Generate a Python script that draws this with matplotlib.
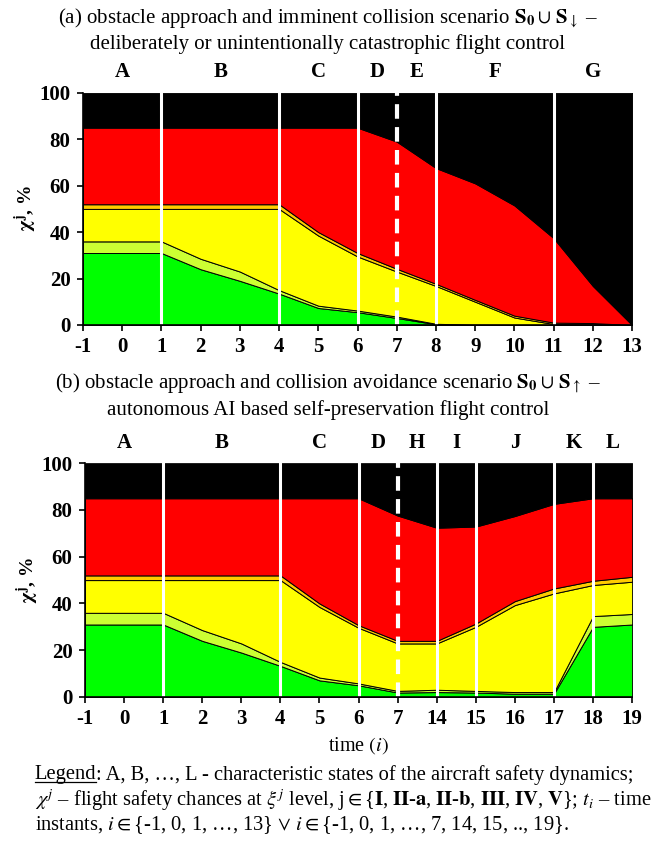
import numpy as np
import matplotlib
matplotlib.use("Agg")
import matplotlib.pyplot as plt
from matplotlib.lines import Line2D

plt.rcParams['font.family'] = ['Liberation Serif', 'DejaVu Serif']
plt.rcParams['mathtext.fontset'] = 'stix'
plt.rcParams['axes.unicode_minus'] = False

# (a) catastrophic scenario, time instants -1..13
t_a = [-1, 0, 1, 2, 3, 4, 5, 6, 7, 8, 9, 10, 11, 12, 13]
a_I   = [31, 31, 31, 24, 19, 13.5, 7.3, 5.5, 3, 0.3, 0, 0, 0, 0, 0]
a_IIa = [5, 5, 5, 4.5, 4, 1.5, 1, 0.7, 0.6, 0.2, 0.1, 0, 0, 0, 0]
a_IIb = [14, 14, 14, 21.5, 27, 35, 30.2, 23.3, 19.4, 16.3, 9.9, 3.2, 0.4, 0.3, 0]
a_III = [2, 2, 2, 2, 2, 2, 1.5, 1.5, 1.2, 0.9, 0.8, 0.8, 0.6, 0.5, 0]
a_IV  = [33, 33, 33, 33, 33, 33, 45, 54, 54.8, 49.9, 50.2, 47.5, 36.4, 16, 0]
a_V   = [15, 15, 15, 15, 15, 15, 15, 15, 21, 32.4, 39, 48.5, 62.6, 83.2, 100]
a_states = ['A', 'B', 'C', 'D', 'E', 'F', 'G']
a_state_pos = [0, 2.5, 5, 6.5, 7.5, 9.5, 12]
a_bounds = [1, 4, 6, 8, 11]
a_dashed = 7

# (b) avoidance scenario, time instants -1..7, 14..19
t_b = ['-1', '0', '1', '2', '3', '4', '5', '6', '7', '14', '15', '16', '17', '18', '19']
b_I   = [31, 31, 31, 24, 19, 13.3, 7.1, 5, 1.9, 2.1, 1.9, 1.4, 1.4, 30, 31]
b_IIa = [5, 5, 5, 4.6, 3.9, 1.7, 1.2, 0.8, 0.7, 1, 0.7, 0.7, 0.7, 4.6, 4.5]
b_IIb = [14, 14, 14, 21.4, 27.1, 35, 30.2, 23.8, 20.3, 19.8, 27.4, 37.2, 42.2, 13.3, 13.8]
b_III = [2, 2, 2, 2, 2, 2, 1.5, 1.1, 1.1, 1.1, 1.4, 1.7, 2.1, 1.8, 2.1]
b_IV  = [33, 33, 33, 33, 33, 33, 45, 54.3, 53.6, 48.4, 41.5, 36.4, 36.2, 35.3, 33.6]
b_V   = [15, 15, 15, 15, 15, 15, 15, 15, 22.4, 27.6, 27.1, 22.6, 17.4, 15, 15]
b_states = ['A', 'B', 'C', 'D', 'H', 'I', 'J', 'K', 'L']
b_state_pos = [1, 3.5, 6, 7.5, 8.5, 9.5, 11, 12.5, 13.5]   # category index units
b_bounds = [2, 5, 7, 9, 10, 12, 13]
b_dashed = 8

colors = ['#00ff00', '#ccff33', '#ffff00', '#ffcc00', '#ff0000', '#000000']

fig = plt.figure(figsize=(6.56, 8.44), dpi=100)
ax1 = fig.add_axes([0.1265, 0.615, 0.837, 0.275])
ax2 = fig.add_axes([0.1296, 0.1742, 0.834, 0.277])


def style(ax, x0, x1):
    ax.set_xlim(x0, x1)
    ax.set_ylim(0, 100)
    ax.set_yticks([0, 20, 40, 60, 80, 100])
    for s in ['top', 'right']:
        ax.spines[s].set_visible(False)
    ax.spines['left'].set_linewidth(1.2)
    ax.spines['bottom'].set_linewidth(1.2)
    ax.tick_params(direction='out', length=4, width=1.2, labelsize=15, pad=5)
    for lab in ax.get_xticklabels() + ax.get_yticklabels():
        lab.set_fontweight('bold')
    ax.set_ylabel(r'$\mathbf{\chi}^\mathbf{j}$, %', fontsize=14, fontweight='bold', labelpad=0)


# top chart
ax1.stackplot(t_a, a_I, a_IIa, a_IIb, a_III, a_IV, a_V, colors=colors,
              edgecolor='black', linewidth=0.7)
for b in a_bounds:
    ax1.axvline(b, color='white', lw=2.2)
ax1.axvline(a_dashed, color='white', lw=3, dashes=(3.5, 2))
ax1.set_xticks(t_a)
style(ax1, -1, 13)
for s, p in zip(a_states, a_state_pos):
    ax1.text(p, 104.5, s, ha='center', va='bottom', fontsize=15, fontweight='bold')

# bottom chart
xb = np.arange(len(t_b))
ax2.stackplot(xb, b_I, b_IIa, b_IIb, b_III, b_IV, b_V, colors=colors,
              edgecolor='black', linewidth=0.7)
for b in b_bounds:
    ax2.axvline(b, color='white', lw=2.2)
ax2.axvline(b_dashed, color='white', lw=3, dashes=(3.5, 2))
ax2.set_xticks(xb)
ax2.set_xticklabels(t_b)
style(ax2, 0, len(t_b) - 1)
ax2.set_xlabel(r'time $\mathit{(i)}$', fontsize=14.5, labelpad=4)
for s, p in zip(b_states, b_state_pos):
    ax2.text(p, 104.5, s, ha='center', va='bottom', fontsize=15, fontweight='bold')

# titles
fig.text(0.5, 0.978, r'(a) obstacle approach and imminent collision scenario $\mathbf{S}_\mathbf{0}\cup\,\mathbf{S}_\downarrow$ –',
         ha='center', va='center', fontsize=15)
fig.text(0.5, 0.948, 'deliberately or unintentionally catastrophic flight control',
         ha='center', va='center', fontsize=15)
fig.text(0.5, 0.546, r'(b) obstacle approach and collision avoidance scenario $\mathbf{S}_\mathbf{0}\cup\,\mathbf{S}_\uparrow$ –',
         ha='center', va='center', fontsize=15)
fig.text(0.5, 0.514, 'autonomous AI based self-preservation flight control',
         ha='center', va='center', fontsize=15)

# legend text
lx = 0.053
fs = 14.8
leg = fig.text(lx, 0.082, 'Legend', ha='left', va='center', fontsize=fs)
fig.text(lx, 0.052,
         r'$\chi^j$ – flight safety chances at $\xi^j$ level, j$\in${$\mathbf{I}$, $\mathbf{II}$-$\mathbf{a}$, '
         r'$\mathbf{II}$-$\mathbf{b}$, $\mathbf{III}$, $\mathbf{IV}$, $\mathbf{V}$}; $t_i$ – time',
         ha='left', va='center', fontsize=fs)
fig.text(lx, 0.022,
         r'instants, $i\in${-1, 0, 1, …, 13} $\vee$ $i\in${-1, 0, 1, …, 7, 14, 15, .., 19}.',
         ha='left', va='center', fontsize=fs)

fig.canvas.draw()
bb = leg.get_window_extent().transformed(fig.transFigure.inverted())
fig.text(bb.x1, 0.082, ': A, B, …, L - characteristic states of the aircraft safety dynamics;',
         ha='left', va='center', fontsize=fs)
fig.add_artist(Line2D([bb.x0, bb.x1], [bb.y0 + 0.003, bb.y0 + 0.003],
                      transform=fig.transFigure, color='black', lw=0.9))

fig.savefig('out.png', dpi=100)
